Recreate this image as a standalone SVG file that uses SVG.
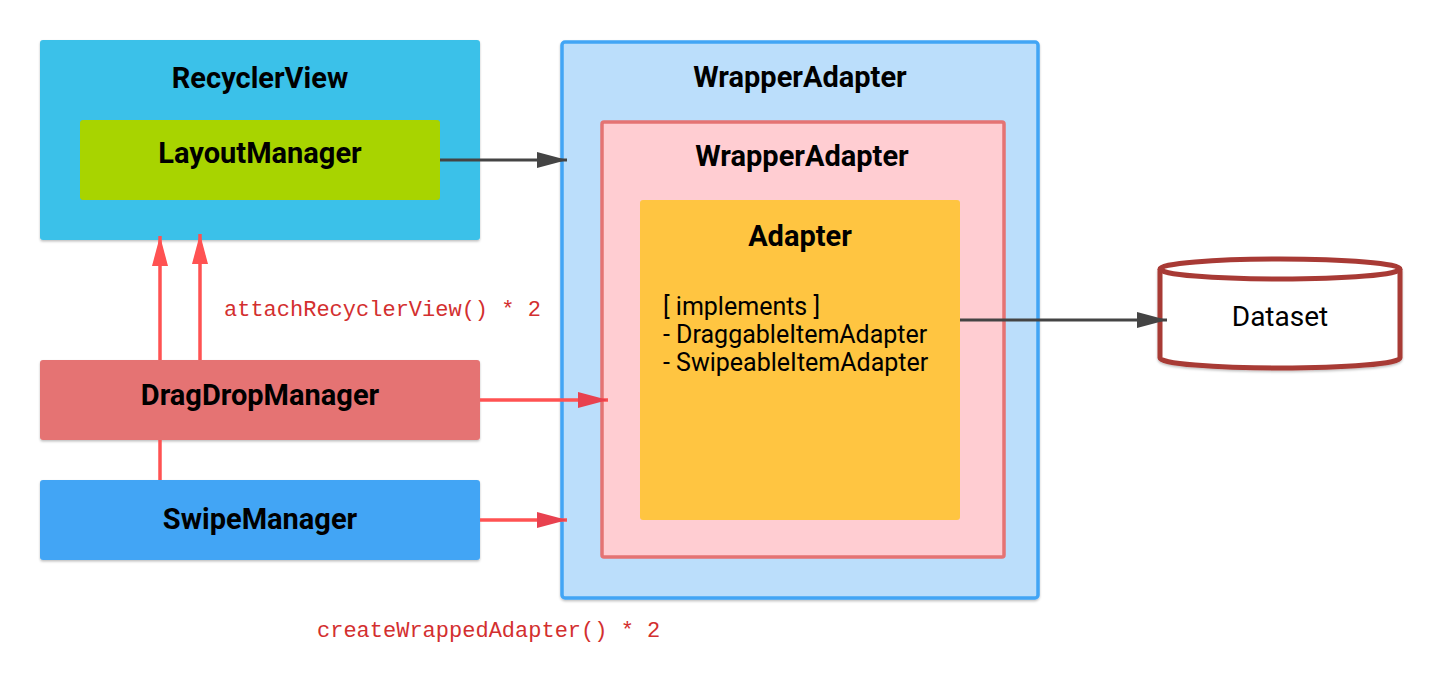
<svg xmlns="http://www.w3.org/2000/svg" width="1440" height="680" viewBox="0 0 1440 680">
<defs>
<filter id="sh" x="-5%" y="-5%" width="110%" height="115%">
<feDropShadow dx="0" dy="1.5" stdDeviation="1.2" flood-color="#000" flood-opacity="0.25"/>
</filter>
<marker id="ag" markerWidth="30" markerHeight="16" refX="30" refY="8" orient="auto" markerUnits="userSpaceOnUse">
<path d="M0,0 L30,8 L0,16 Z" fill="#444444"/>
</marker>
<marker id="ar" markerWidth="30" markerHeight="16" refX="30" refY="8" orient="auto" markerUnits="userSpaceOnUse">
<path d="M0,0 L30,8 L0,16 Z" fill="#E8414F"/>
</marker>
<marker id="ar2" markerWidth="30" markerHeight="16" refX="30" refY="8" orient="auto" markerUnits="userSpaceOnUse">
<path d="M0,0 L30,8 L0,16 Z" fill="#FF5252"/>
</marker>
</defs>
<style>
.t{font-family:Roboto,"Liberation Sans",sans-serif;font-size:29px;font-weight:bold;fill:#000;text-anchor:middle}
.r{font-family:Roboto,"Liberation Sans",sans-serif;font-size:25px;fill:#000}
.m{font-family:"Liberation Mono","DejaVu Sans Mono",monospace;font-size:22px;fill:#D32F2F}
.cg{fill:none;stroke:#444444;stroke-width:3}
.cr{fill:none;stroke:#FF5252;stroke-width:3.5}
</style>
<rect width="1440" height="680" fill="#fff"/>
<g id="recyclerview">
<rect x="40" y="40" width="440" height="200" rx="3" fill="#3BC1E9" filter="url(#sh)"/>
<text class="t" x="260" y="88">RecyclerView</text>
</g>
<g id="layoutmanager">
<rect x="80" y="120" width="360" height="80" rx="3" fill="#A8D400"/>
<text class="t" x="260" y="163">LayoutManager</text>
</g>
<g id="wrapper-outer">
<rect x="562" y="42" width="476" height="556" rx="3" fill="#BBDEFB" stroke="#42A5F5" stroke-width="3.5" filter="url(#sh)"/>
<text class="t" x="800" y="87">WrapperAdapter</text>
</g>
<g id="wrapper-inner">
<rect x="602" y="122" width="402" height="435" rx="2" fill="#FFCDD2" stroke="#E57373" stroke-width="3.5"/>
<text class="t" x="802" y="166">WrapperAdapter</text>
</g>
<g id="adapter">
<rect x="640" y="200" width="320" height="320" rx="3" fill="#FFC541"/>
<text class="t" x="800" y="246">Adapter</text>
<text class="r" x="663" y="315">[ implements ]</text>
<text class="r" x="663" y="343">- DraggableItemAdapter</text>
<text class="r" x="663" y="371">- SwipeableItemAdapter</text>
</g>
<g id="dataset">
<path d="M1160,269 L1160,358 A120,10 0 0 0 1400,358 L1400,269" fill="#fff" stroke="#A83A35" stroke-width="5" filter="url(#sh)"/>
<ellipse cx="1280" cy="269" rx="120" ry="10" fill="#fff" stroke="#A83A35" stroke-width="5"/>
<text class="r" x="1280" y="326" text-anchor="middle" style="font-size:28px">Dataset</text>
</g>
<g id="dragdropmanager">
<rect x="40" y="360" width="440" height="80" rx="3" fill="#E57373" filter="url(#sh)"/>
<text class="t" x="260" y="405">DragDropManager</text>
</g>
<g id="swipemanager">
<rect x="40" y="480" width="440" height="80" rx="3" fill="#42A5F5" filter="url(#sh)"/>
<text class="t" x="260" y="529">SwipeManager</text>
</g>
<g id="connectors">
<line class="cg" x1="440" y1="160" x2="567" y2="160" marker-end="url(#ag)"/>
<line class="cg" x1="960" y1="320" x2="1167" y2="320" marker-end="url(#ag)"/>
<line class="cr" x1="160" y1="480" x2="160" y2="440"/>
<line class="cr" x1="160" y1="360" x2="160" y2="236" marker-end="url(#ar2)"/>
<line class="cr" x1="200" y1="360" x2="200" y2="234" marker-end="url(#ar2)"/>
<line class="cr" x1="480" y1="400" x2="608" y2="400" marker-end="url(#ar)"/>
<line class="cr" x1="480" y1="520" x2="567" y2="520" marker-end="url(#ar)"/>
<text class="m" x="224" y="316">attachRecyclerView() * 2</text>
<text class="m" x="317" y="637">createWrappedAdapter() * 2</text>
</g>
</svg>
